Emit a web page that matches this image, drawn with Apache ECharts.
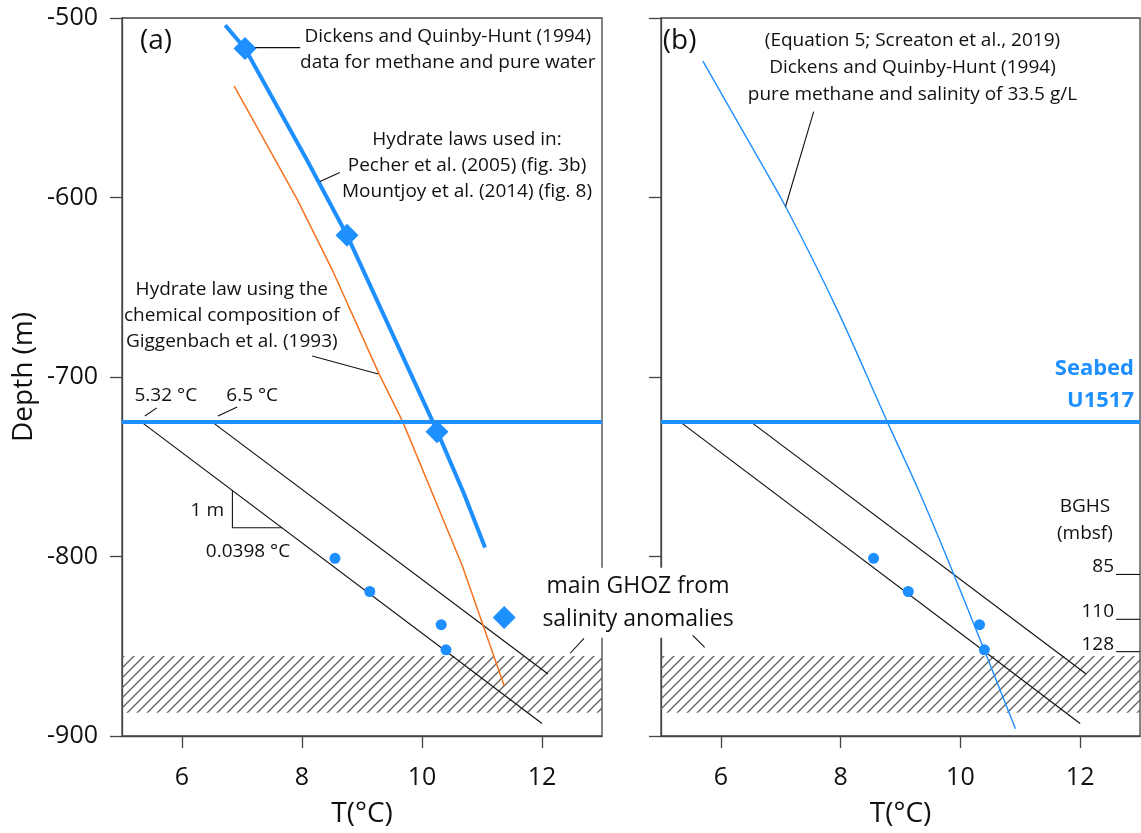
<!DOCTYPE html>
<html>
<head>
<meta charset="utf-8">
<script src="https://cdn.jsdelivr.net/npm/echarts@6/dist/echarts.min.js"></script>
<style>
  html, body { margin: 0; padding: 0; background: #fff; }
  #chart { width: 1141px; height: 833px; }
</style>
</head>
<body>
<div id="chart"></div>
<script>
// hydrate stability laws, [T (°C), depth (m)]
const pureWaterLaw = [[6.72, -504], [7.05, -517], [8.08, -579], [8.75, -621], [10.25, -730], [10.7, -765], [11.05, -795]]
const pureWaterPoints = [[7.05, -517], [8.75, -621], [10.25, -730.5], [11.37, -834]]
const giggenbachLaw = [[6.87, -538], [7.92, -601], [8.5, -640], [9.28, -698], [9.68, -725], [10.67, -805], [11.37, -872]]
const salinityLaw = [[5.7, -524], [6.4, -565], [7.08, -605], [7.95, -663], [8.78, -725], [9.3, -763], [9.78, -801], [10.35, -848], [10.92, -896]]
// seabed and geotherms (5.32 °C and 6.5 °C at seabed, 0.0398 °C/m)
const seabed = [[5, -725], [13, -725]]
const geothermLow = [[5.32, -725], [12.0, -893]]
const geothermHigh = [[6.5, -725], [12.1, -865.5]]
const gradientMark = [[6.84, -763.3], [6.84, -784], [7.67, -784]]
// temperatures measured in the hole
const wellTemps = [[8.55, -801], [9.13, -819.5], [10.32, -838], [10.4, -852]]
// main GHOZ band
const ghoz = [-855.5, -887]
// BGHS (mbsf) and their depths
const bghsLabels = ['85', '110', '128']
const bghsDepths = [-810, -835, -853]
const xTicks = [6, 8, 10, 12]

const BLUE = '#1E8FFF'
const ORANGE = '#F5731E'
const AXIS = '#444'
const FONT = 'Open Sans'

function hatchPattern () {
  const c = document.createElement('canvas')
  c.width = 10
  c.height = 10
  const g = c.getContext('2d')
  g.strokeStyle = '#606060'
  g.lineWidth = 1.3
  g.beginPath()
  g.moveTo(-1, 11); g.lineTo(11, -1)
  g.moveTo(-1, 1); g.lineTo(1, -1)
  g.moveTo(9, 11); g.lineTo(11, 9)
  g.stroke()
  return c
}
const hatch = hatchPattern()

function xAxis (gridIndex) {
  return {
    gridIndex,
    type: 'value',
    min: 5,
    max: 13,
    name: 'T(°C)',
    nameLocation: 'middle',
    nameGap: 64,
    nameTextStyle: { fontSize: 28, fontFamily: FONT, color: '#111' },
    axisLine: { onZero: false, lineStyle: { color: AXIS, width: 1.3 } },
    axisTick: { customValues: xTicks, length: 12, lineStyle: { color: AXIS, width: 1.3 } },
    axisLabel: { customValues: xTicks, margin: 29, fontSize: 25, fontFamily: FONT, color: '#111' },
    splitLine: { show: false }
  }
}
function yAxis (gridIndex, labels) {
  return {
    gridIndex,
    type: 'value',
    min: -900,
    max: -500,
    interval: 100,
    name: labels ? 'Depth (m)' : '',
    nameLocation: 'middle',
    nameGap: 84,
    nameTextStyle: { fontSize: 28, fontFamily: FONT, color: '#111' },
    axisLine: { show: true, onZero: false, lineStyle: { color: AXIS, width: 1.3 } },
    axisTick: { length: 12, lineStyle: { color: AXIS, width: 1.3 } },
    axisLabel: { show: labels, margin: 24, fontSize: 25, fontFamily: FONT, color: '#111' },
    splitLine: { show: false }
  }
}

function line (idx, data, color, width, extra) {
  return Object.assign({
    type: 'line', xAxisIndex: idx, yAxisIndex: idx, data,
    symbol: 'none', silent: true, z: 3,
    lineStyle: { color, width }
  }, extra || {})
}
function dots (idx) {
  return {
    type: 'scatter', xAxisIndex: idx, yAxisIndex: idx, data: wellTemps,
    symbol: 'circle', symbolSize: 11, itemStyle: { color: BLUE, opacity: 1 }, z: 5
  }
}
function ghozArea () {
  return {
    silent: true,
    itemStyle: { color: { image: hatch, repeat: 'repeat' } },
    data: [[{ yAxis: ghoz[0] }, { yAxis: ghoz[1] }]]
  }
}

const chart = echarts.init(document.getElementById('chart'))
chart.setOption({
  animation: false,
  backgroundColor: '#fff',
  grid: [
    { left: 122, top: 18, width: 480, height: 720, show: true, borderColor: AXIS, borderWidth: 1.3 },
    { left: 661, top: 18, width: 479, height: 720, show: true, borderColor: AXIS, borderWidth: 1.3 }
  ],
  xAxis: [xAxis(0), xAxis(1)],
  yAxis: [yAxis(0, true), yAxis(1, false)],
  series: [
    // (a)
    line(0, geothermLow, '#111', 1.2, { markArea: ghozArea() }),
    line(0, geothermHigh, '#111', 1.2),
    line(0, gradientMark, '#111', 1.1),
    line(0, giggenbachLaw, ORANGE, 1.5),
    line(0, pureWaterLaw, BLUE, 4),
    line(0, seabed, BLUE, 4),
    {
      type: 'scatter', xAxisIndex: 0, yAxisIndex: 0, data: pureWaterPoints,
      symbol: 'diamond', symbolSize: 23, itemStyle: { color: BLUE, opacity: 1 }, z: 5
    },
    dots(0),
    // (b)
    line(1, geothermLow, '#111', 1.2, { markArea: ghozArea() }),
    line(1, geothermHigh, '#111', 1.2),
    line(1, salinityLaw, BLUE, 1.4, { smooth: 0.3 }),
    line(1, seabed, BLUE, 4),
    dots(1)
  ]
})

// annotations, anchored in data coordinates
const notes = [
  { g: 0, at: [5.3, -513], text: '(a)', size: 28, align: 'left' },
  { g: 1, at: [5.03, -513], text: '(b)', size: 28, align: 'left' },
  { g: 0, at: [10.43, -517.5], text: 'Dickens and Quinby-Hunt (1994)\ndata for methane and pure water' },
  { g: 0, at: [10.75, -582.2], text: 'Hydrate laws used in:\nPecher et al. (2005) (fig. 3b)\nMountjoy et al. (2014) (fig. 8)' },
  { g: 0, at: [6.83, -665.6], text: 'Hydrate law using the\nchemical composition of\nGiggenbach et al. (1993)' },
  { g: 0, at: [5.73, -710.6], text: '5.32 °C' },
  { g: 0, at: [7.17, -710.6], text: '6.5 °C' },
  { g: 0, at: [6.7, -774.4], text: '1 m', align: 'right' },
  { g: 0, at: [7.1, -797.2], text: '0.0398 °C' },
  { g: 0, at: [13.6, -825.8], text: 'main GHOZ from\nsalinity anomalies', size: 23, lh: 33, bg: '#fff' },
  { g: 1, at: [9.2, -527.8], text: '(Equation 5; Screaton et al., 2019)\nDickens and Quinby-Hunt (1994)\npure methane and salinity of 33.5 g/L', lh: 27 },
  { g: 1, at: [12.9, -704.4], text: 'Seabed\nU1517', size: 22, lh: 32, align: 'right', color: BLUE, weight: 'bold' },
  { g: 1, at: [12.08, -779.7], text: 'BGHS\n(mbsf)', size: 19, lh: 27 }
]
const leaders = [
  { g: 0, from: [7.22, -516.5], to: [7.97, -516.5] },
  { g: 0, from: [8.3, -591.1], to: [8.63, -586.1] },
  { g: 0, from: [8.17, -688.3], to: [9.27, -698.3] },
  { g: 0, from: [5.38, -721.7], to: [5.58, -717.2] },
  { g: 0, from: [6.6, -721.7], to: [6.92, -716.7] },
  { g: 0, from: [12.47, -853.9], to: [12.7, -845.6] },
  { g: 1, from: [5.53, -843.9], to: [5.73, -850.6] },
  { g: 1, from: [7.55, -552.2], to: [7.08, -605] }
]

const px = (g, p) => chart.convertToPixel({ gridIndex: g }, p)
const graphics = []
notes.forEach(n => {
  const p = px(n.g, n.at)
  graphics.push({
    type: 'text', x: p[0], y: p[1], z: 20,
    style: {
      text: n.text,
      fill: n.color || '#111',
      fontSize: n.size || 19,
      fontFamily: FONT,
      fontWeight: n.weight || 'normal',
      lineHeight: n.lh || 26,
      align: n.align || 'center',
      textAlign: n.align || 'center',
      verticalAlign: 'middle',
      textVerticalAlign: 'middle',
      backgroundColor: n.bg,
      padding: n.bg ? [2, 6] : 0
    }
  })
})
leaders.forEach(l => {
  const a = px(l.g, l.from)
  const b = px(l.g, l.to)
  graphics.push({
    type: 'line', z: 21, silent: true,
    shape: { x1: a[0], y1: a[1], x2: b[0], y2: b[1] },
    style: { stroke: '#111', lineWidth: 1.1 }
  })
})
bghsDepths.forEach((d, i) => {
  const a = px(1, [12.6, d])
  const b = px(1, [13, d])
  graphics.push({
    type: 'line', z: 21, silent: true,
    shape: { x1: a[0], y1: a[1], x2: b[0], y2: b[1] },
    style: { stroke: '#111', lineWidth: 1.1 }
  })
  graphics.push({
    type: 'text', x: a[0] - 2, y: a[1] + 2, z: 20,
    style: {
      text: bghsLabels[i], fill: '#111', fontSize: 19, fontFamily: FONT,
      align: 'right', textAlign: 'right', verticalAlign: 'bottom', textVerticalAlign: 'bottom'
    }
  })
})
chart.setOption({ graphic: graphics })
</script>
</body>
</html>
